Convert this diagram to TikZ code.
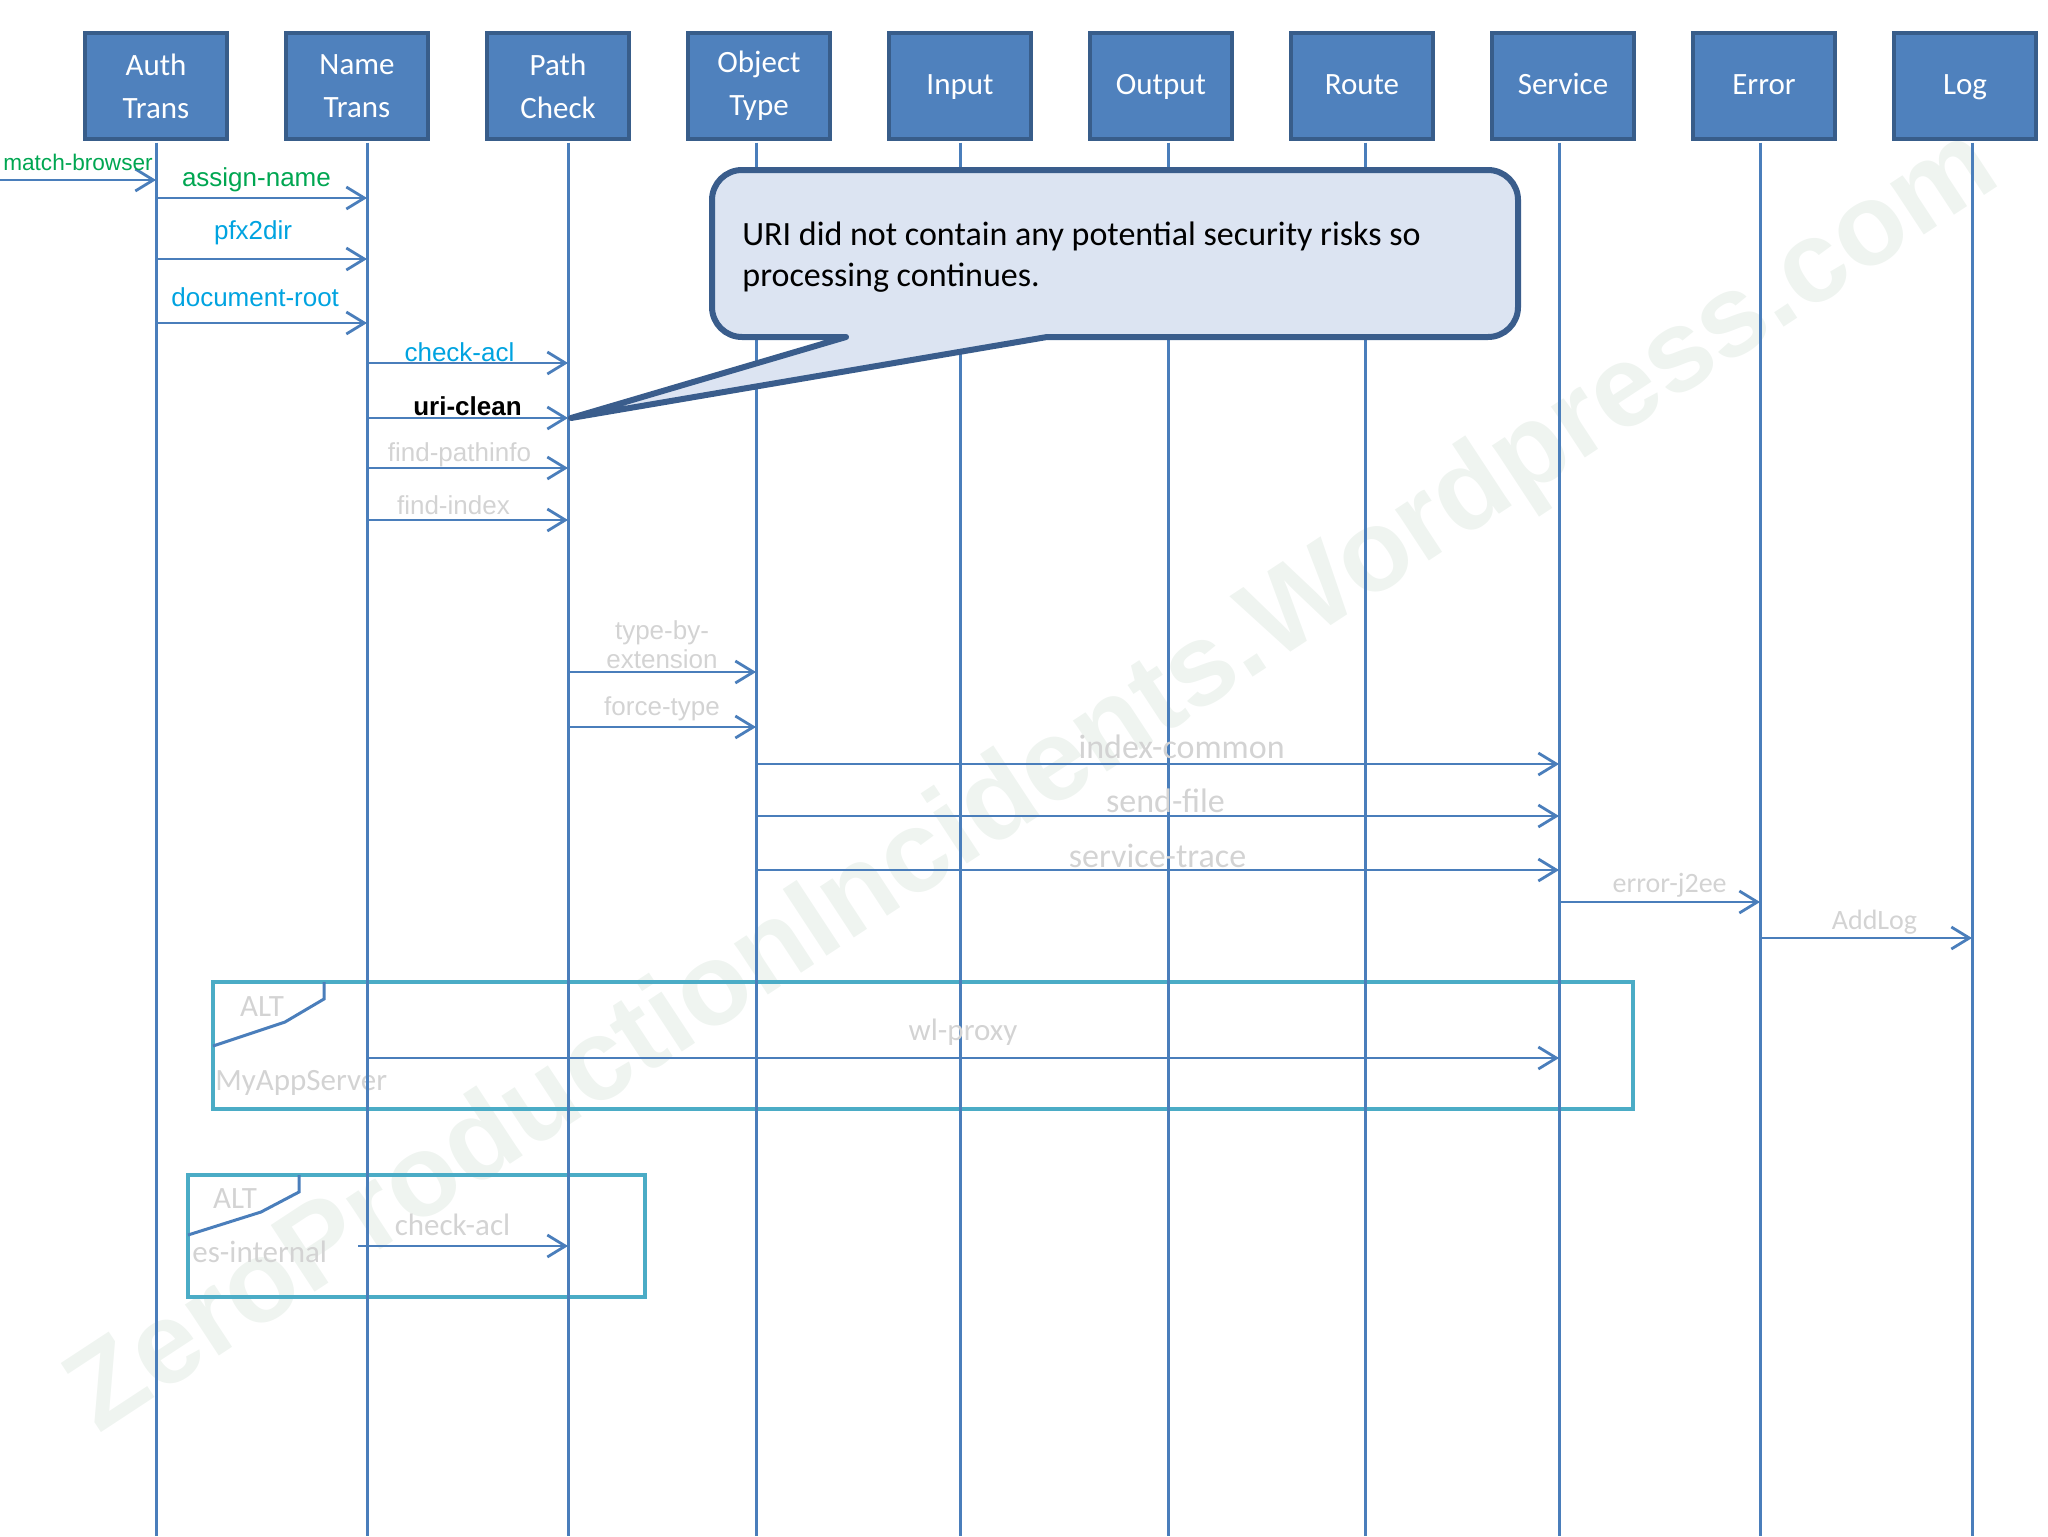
\documentclass[tikz,border=0pt]{standalone}
\usepackage{fontspec}
\setmainfont{Carlito}
\newfontfamily\arialfont{Liberation Sans}
\usetikzlibrary{positioning,arrows.meta}
\definecolor{boxblue}{HTML}{4F81BD}
\definecolor{boxedge}{HTML}{385D8A}
\definecolor{lineblue}{HTML}{4A7EBB}
\definecolor{notefill}{HTML}{DCE4F2}
\definecolor{noteedge}{HTML}{3A5D8C}
\definecolor{framecol}{HTML}{4BACC6}
\definecolor{msggreen}{HTML}{00A651}
\definecolor{msgcyan}{HTML}{00A3E0}
\definecolor{msggray}{HTML}{D3D3D3}
\definecolor{wmcol}{HTML}{EFF4F0}
\tikzset{
  actor/.style={draw=boxedge, line width=2pt, fill=boxblue, text=white,
    minimum width=71pt, minimum height=52.5pt, inner sep=0pt, align=center,
    font=\fontsize{15.5}{21.5}\selectfont},
  oneline/.style={text height=8.4pt, text depth=0pt},
  life/.style={lineblue, line width=1.5pt},
  msg/.style={lineblue, line width=1.4pt, -{Straight Barb[length=9pt,width=11pt]}},
  lbl/.style={inner sep=0pt, font=\arialfont\fontsize{13}{14.5}\selectfont},
  glbl/.style={inner sep=0pt, text=msggray, font=\fontsize{15.5}{18}\selectfont},
  altframe/.style={framecol, line width=2pt},
  alttab/.style={lineblue, line width=1.5pt}
}
\begin{document}
\begin{tikzpicture}[x=0.5pt,y=-0.5pt]
\useasboundingbox (0,0) rectangle (2048,1536);
\node[rotate=33.3, text=wmcol, font=\arialfont\bfseries\fontsize{58}{60}\selectfont] (wm) at (1035,784) {ZeroProductionIncidents.Wordpress.com};

% alt frames
\draw[altframe] (213,982) rectangle (1633,1109);
\draw[alttab] (324,982) -- (324,999) -- (285,1022) -- (213,1046);
\node[glbl] (alt1) at (262,1007) {ALT};
\node[glbl, anchor=west] (grp1) at (215,1083) {MyAppServer};
\draw[altframe] (188,1175) rectangle (645,1297);
\draw[alttab] (299,1175) -- (299,1192) -- (261,1212) -- (188,1235);
\node[glbl] (alt2) at (235,1199) {ALT};
\node[glbl, anchor=west] (grp2) at (192,1252) {es-internal};

% heads
\node[actor] (Auth) at (156,86) {Auth\\Trans};
\node[actor, on grid, right=100.5pt of Auth] (Name) {Name\\Trans};
\node[actor, on grid, right=100.5pt of Name] (Path) {Path\\Check};
\node[actor, on grid, right=100.5pt of Path] (Object) {Object\\Type};
\node[actor, oneline, on grid, right=100.5pt of Object] (Input) {Input};
\node[actor, oneline, on grid, right=100.5pt of Input] (Output) {Output};
\node[actor, oneline, on grid, right=100.5pt of Output] (Route) {Route};
\node[actor, oneline, on grid, right=100.5pt of Route] (Service) {Service};
\node[actor, oneline, on grid, right=100.5pt of Service] (Error) {Error};
\node[actor, oneline, on grid, right=100.5pt of Error] (Log) {Log};

% lifelines
\coordinate (lAuth) at ([yshift=-1pt]Auth.south);
\coordinate (lName) at ([xshift=5pt,yshift=-1pt]Name.south);
\coordinate (lPath) at ([xshift=5pt,yshift=-1pt]Path.south);
\coordinate (lObject) at ([xshift=-1.5pt,yshift=-1pt]Object.south);
\coordinate (lInput) at ([yshift=-1pt]Input.south);
\coordinate (lOutput) at ([xshift=3.5pt,yshift=-1pt]Output.south);
\coordinate (lRoute) at ([xshift=1.5pt,yshift=-1pt]Route.south);
\coordinate (lService) at ([xshift=-2pt,yshift=-1pt]Service.south);
\coordinate (lError) at ([xshift=-2pt,yshift=-1pt]Error.south);
\coordinate (lLog) at ([xshift=3.5pt,yshift=-1pt]Log.south);
\foreach \l in {lAuth,lName,lPath,lObject,lInput,lOutput,lRoute,lService,lError,lLog}
  \draw[life] (\l) -- (\l |- 0,1536);

% messages
\coordinate (entry) at (0,180);
\draw[msg] (entry) -- node[lbl, text=msggreen, yshift=9pt, font=\arialfont\fontsize{11.3}{13}\selectfont] {match-browser} (lAuth |- entry);
\draw[msg] (lAuth |- 0,198) -- node[lbl, text=msggreen, pos=.476, yshift=9pt] {assign-name} (lName |- 0,198);
\draw[msg] (lAuth |- 0,259) -- node[lbl, text=msgcyan, pos=.46, yshift=13pt] {pfx2dir} (lName |- 0,259);
\draw[msg] (lAuth |- 0,323) -- node[lbl, text=msgcyan, pos=.47, yshift=13pt] {document-root} (lName |- 0,323);
\draw[msg] (lName |- 0,363) -- node[lbl, text=msgcyan, pos=.46, yshift=5.5pt] {check-acl} (lPath |- 0,363);
\draw[msg] (lName |- 0,418) -- node[lbl, text=black, font=\arialfont\bfseries\fontsize{13}{14.5}\selectfont, yshift=6pt] {uri-clean} (lPath |- 0,418);
\draw[msg] (lName |- 0,468) -- node[lbl, text=msggray, pos=.46, yshift=6.5pt] {find-pathinfo} (lPath |- 0,468);
\draw[msg] (lName |- 0,520) -- node[lbl, text=msggray, pos=.43, yshift=7.5pt] {find-index} (lPath |- 0,520);
\draw[msg] (lPath |- 0,672) -- node[lbl, text=msggray, align=center, yshift=13.75pt] {type-by-\\extension} (lObject |- 0,672);
\draw[msg] (lPath |- 0,727) -- node[lbl, text=msggray, yshift=9pt] {force-type} (lObject |- 0,727);
\draw[msg] (lObject |- 0,764) -- node[glbl, font=\fontsize{17}{20}\selectfont, pos=.53, yshift=8.5pt] {index-common} (lService |- 0,764);
\draw[msg] (lObject |- 0,816) -- node[glbl, font=\fontsize{17}{20}\selectfont, pos=.51, yshift=7.5pt] {send-file} (lService |- 0,816);
\draw[msg] (lObject |- 0,870) -- node[glbl, font=\fontsize{17}{20}\selectfont, yshift=7pt] {service-trace} (lService |- 0,870);
\draw[msg] (lService |- 0,902) -- node[glbl, font=\fontsize{14}{16}\selectfont, pos=.55, yshift=8.5pt] {error-j2ee} (lError |- 0,902);
\draw[msg] (lError |- 0,938) -- node[glbl, font=\fontsize{14}{16}\selectfont, pos=.54, yshift=8pt] {AddLog} (lLog |- 0,938);
\draw[msg] (lName |- 0,1058) -- node[glbl, yshift=13pt] {wl-proxy} (lService |- 0,1058);
\coordinate (acl2) at (358,1246);
\draw[msg] (acl2) -- node[glbl, pos=.45, yshift=10.5pt] {check-acl} (lPath |- acl2);

% callout
\draw[fill=notefill, draw=noteedge, line width=3pt, line join=round]
  (846,337) -- (571,418) -- (1047,337) -- (1488,337)
  arc[start angle=-90, end angle=0, radius=15pt] -- (1518,200)
  arc[start angle=0, end angle=90, radius=15pt] -- (742,170)
  arc[start angle=90, end angle=180, radius=15pt] -- (712,307)
  arc[start angle=180, end angle=270, radius=15pt] -- cycle;
\node[anchor=north west, inner sep=0pt, align=left, font=\fontsize{17}{20.5}\selectfont] (note) at (742,221)
  {URI did not contain any potential security risks so\\processing continues.};
\end{tikzpicture}
\end{document}
